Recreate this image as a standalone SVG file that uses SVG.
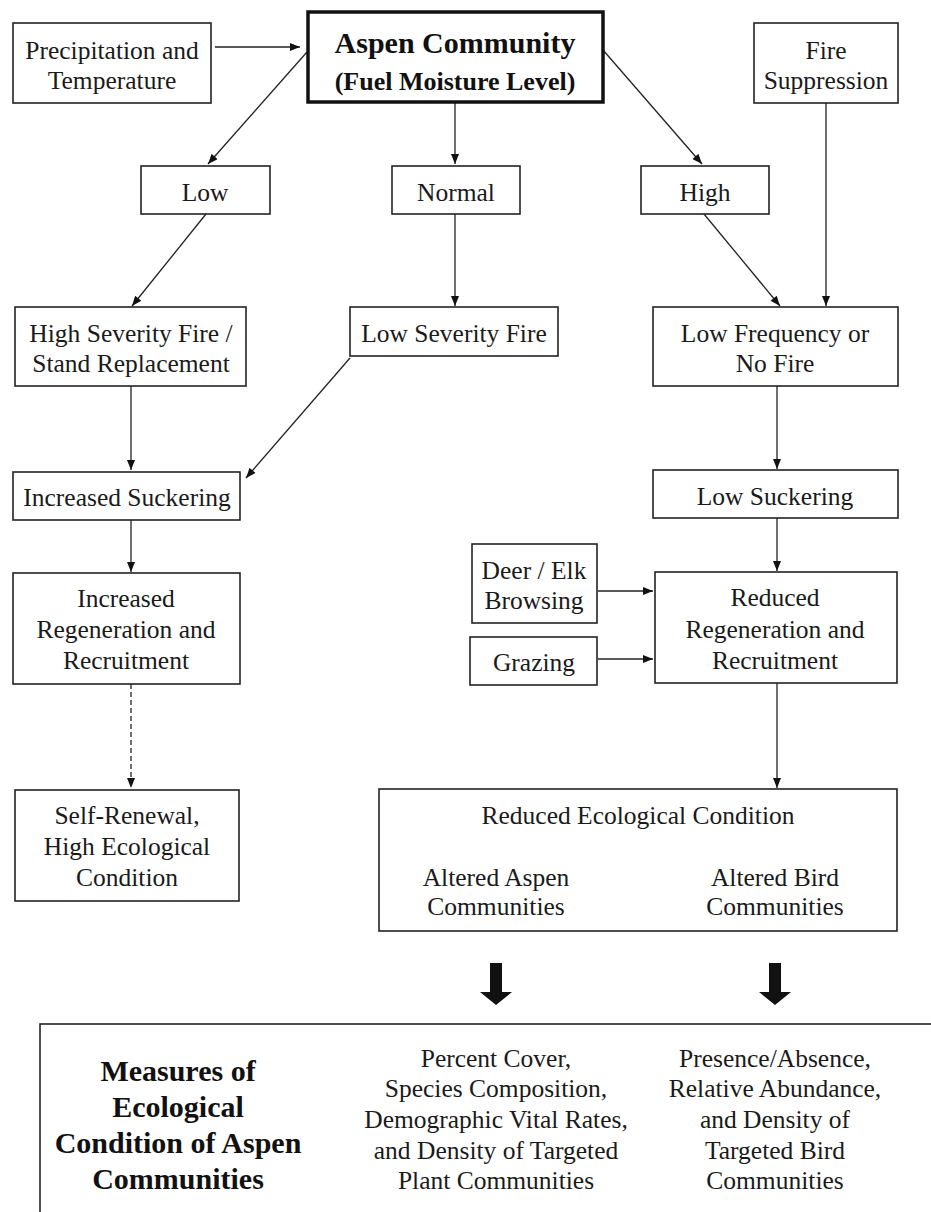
<svg xmlns="http://www.w3.org/2000/svg" width="931" height="1212" viewBox="0 0 931 1212">
  <style>
    .box { fill: #fff; stroke: #222; stroke-width: 1.6; }
    .main { fill: #fff; stroke: #111; stroke-width: 3.5; }
    text { font-family: "Liberation Serif", "Times New Roman", serif; }
    .t { font-size: 25.5px; fill: #1a1a1a; text-anchor: middle; dominant-baseline: central; }
    .b { font-weight: bold; fill: #111; text-anchor: middle; dominant-baseline: central; }
    .c { fill: none; stroke: #222; stroke-width: 1.3; marker-end: url(#ah); }
    .d { stroke-dasharray: 5 3; }
    .blk { fill: #111; }
  </style>
  <defs>
    <marker id="ah" viewBox="0 0 10 8" refX="10" refY="4" markerWidth="11" markerHeight="8" markerUnits="userSpaceOnUse" orient="auto">
      <path d="M0,0 L10,4 L0,8 z" fill="#111"/>
    </marker>
  </defs>
  <rect width="931" height="1212" fill="#fff"/>

  <!-- connectors -->
  <g id="connectors">
    <line class="c" x1="215" y1="47" x2="300" y2="47"/>
    <line class="c" x1="307" y1="52" x2="208" y2="164"/>
    <line class="c" x1="455" y1="102" x2="455" y2="164"/>
    <line class="c" x1="603" y1="50" x2="702" y2="164"/>
    <line class="c" x1="206" y1="214" x2="132" y2="306"/>
    <line class="c" x1="455" y1="214" x2="455" y2="306"/>
    <line class="c" x1="704" y1="214" x2="780" y2="306"/>
    <line class="c" x1="826" y1="102" x2="826" y2="306"/>
    <line class="c" x1="131" y1="386" x2="131" y2="470"/>
    <line class="c" x1="350" y1="358" x2="246" y2="478"/>
    <line class="c" x1="777" y1="386" x2="777" y2="469"/>
    <line class="c" x1="131" y1="520" x2="131" y2="572"/>
    <line class="c" x1="777" y1="518" x2="777" y2="571"/>
    <line class="c" x1="598" y1="591" x2="653" y2="591" stroke-width="1.8"/>
    <line class="c" x1="598" y1="659" x2="653" y2="659" stroke-width="1.8"/>
    <line class="c d" x1="131" y1="684" x2="131" y2="788"/>
    <line class="c" x1="777" y1="683" x2="777" y2="788"/>
    <!-- block arrows into the measures panel -->
    <path class="blk" d="M490,963 H502 V992 H512 L496,1005 L480,992 H490 Z"/>
    <path class="blk" d="M769,963 H781 V992 H791 L775,1005 L759,992 H769 Z"/>
  </g>

  <g id="precip">
    <rect class="box" x="13" y="23" width="198" height="80"/>
    <text class="t" x="112" y="50">Precipitation and</text>
    <text class="t" x="112" y="80">Temperature</text>
  </g>
  <g id="aspen">
    <rect class="main" x="308" y="12" width="295" height="90"/>
    <text class="b" x="455" y="42" font-size="30">Aspen Community</text>
    <text class="b" x="455" y="81" font-size="26">(Fuel Moisture Level)</text>
  </g>
  <g id="fire-suppression">
    <rect class="box" x="754" y="23" width="144" height="80"/>
    <text class="t" x="826" y="50">Fire</text>
    <text class="t" x="826" y="80">Suppression</text>
  </g>
  <g id="low">
    <rect class="box" x="141" y="166" width="129" height="48"/>
    <text class="t" x="205" y="192">Low</text>
  </g>
  <g id="normal">
    <rect class="box" x="392" y="166" width="128" height="48"/>
    <text class="t" x="456" y="192">Normal</text>
  </g>
  <g id="high">
    <rect class="box" x="641" y="166" width="128" height="48"/>
    <text class="t" x="705" y="192">High</text>
  </g>
  <g id="high-severity">
    <rect class="box" x="15" y="307" width="231" height="79"/>
    <text class="t" x="131" y="333">High Severity Fire /</text>
    <text class="t" x="131" y="363">Stand Replacement</text>
  </g>
  <g id="low-severity">
    <rect class="box" x="350" y="307" width="208" height="49"/>
    <text class="t" x="454" y="333">Low Severity Fire</text>
  </g>
  <g id="low-frequency">
    <rect class="box" x="653" y="307" width="245" height="79"/>
    <text class="t" x="775" y="333">Low Frequency or</text>
    <text class="t" x="775" y="363">No Fire</text>
  </g>
  <g id="increased-suckering">
    <rect class="box" x="13" y="472" width="227" height="48"/>
    <text class="t" x="127" y="497">Increased Suckering</text>
  </g>
  <g id="low-suckering">
    <rect class="box" x="653" y="470" width="245" height="48"/>
    <text class="t" x="775" y="496">Low Suckering</text>
  </g>
  <g id="increased-regeneration">
    <rect class="box" x="13" y="573" width="227" height="111"/>
    <text class="t" x="126" y="598">Increased</text>
    <text class="t" x="126" y="629">Regeneration and</text>
    <text class="t" x="126" y="660">Recruitment</text>
  </g>
  <g id="deer-elk">
    <rect class="box" x="472" y="544" width="125" height="79"/>
    <text class="t" x="534" y="570">Deer / Elk</text>
    <text class="t" x="534" y="600">Browsing</text>
  </g>
  <g id="grazing">
    <rect class="box" x="470" y="637" width="127" height="48"/>
    <text class="t" x="534" y="662">Grazing</text>
  </g>
  <g id="reduced-regeneration">
    <rect class="box" x="655" y="572" width="242" height="111"/>
    <text class="t" x="775" y="597">Reduced</text>
    <text class="t" x="775" y="629">Regeneration and</text>
    <text class="t" x="775" y="660">Recruitment</text>
  </g>
  <g id="self-renewal">
    <rect class="box" x="15" y="790" width="224" height="111"/>
    <text class="t" x="127" y="815">Self-Renewal,</text>
    <text class="t" x="127" y="846">High Ecological</text>
    <text class="t" x="127" y="877">Condition</text>
  </g>
  <g id="reduced-ecological">
    <rect class="box" x="379" y="789" width="518" height="142"/>
    <text class="t" x="638" y="815">Reduced Ecological Condition</text>
    <text class="t" x="496" y="877">Altered Aspen</text>
    <text class="t" x="496" y="906">Communities</text>
    <text class="t" x="775" y="877">Altered Bird</text>
    <text class="t" x="775" y="906">Communities</text>
  </g>
  <g id="measures">
    <rect class="box" x="40" y="1024" width="940" height="220" stroke-width="2"/>
    <text class="b" x="178" y="1070" font-size="30">Measures of</text>
    <text class="b" x="178" y="1106" font-size="30">Ecological</text>
    <text class="b" x="178" y="1142" font-size="30">Condition of Aspen</text>
    <text class="b" x="178" y="1178" font-size="30">Communities</text>
    <text class="t" x="496" y="1058">Percent Cover,</text>
    <text class="t" x="496" y="1088">Species Composition,</text>
    <text class="t" x="496" y="1119">Demographic Vital Rates,</text>
    <text class="t" x="496" y="1150">and Density of Targeted</text>
    <text class="t" x="496" y="1180">Plant Communities</text>
    <text class="t" x="775" y="1058">Presence/Absence,</text>
    <text class="t" x="775" y="1088">Relative Abundance,</text>
    <text class="t" x="775" y="1119">and Density  of</text>
    <text class="t" x="775" y="1150">Targeted Bird</text>
    <text class="t" x="775" y="1180">Communities</text>
  </g>
</svg>
